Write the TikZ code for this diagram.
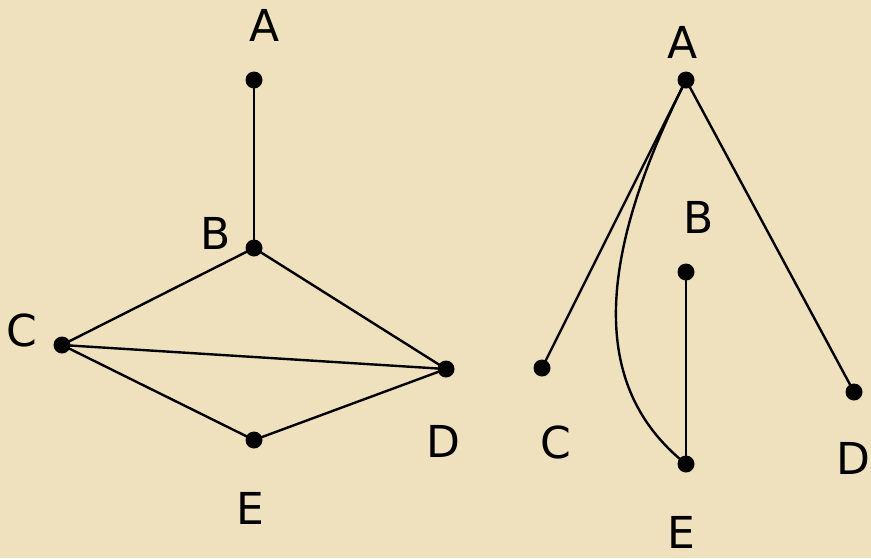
\documentclass[tikz,border=0pt]{standalone}
\usepackage{fontspec}
\setmainfont{DejaVu Sans}
\definecolor{parch}{RGB}{240,225,190}
\tikzset{
  vtx/.style={circle,fill=black,inner sep=0pt,minimum size=17pt},
  lbl/.style={inner sep=0pt,font=\fontsize{44}{48}\selectfont},
  edge/.style={line width=2.4pt,black}
}
\begin{document}
\begin{tikzpicture}[x=1pt,y=-1pt]
\fill[parch] (0,0) rectangle (871,558);
\useasboundingbox (0,0) rectangle (871,558);
% left graph
\node[vtx] (A1) at (254,80) {};
\node[vtx] (B1) at (254,248) {};
\node[vtx] (C1) at (62,345) {};
\node[vtx] (D1) at (446,369) {};
\node[vtx] (E1) at (254,440) {};
\node[lbl] (lA1) at (265,25) {A};
\node[lbl] (lB1) at (216,233) {B};
\node[lbl] (lC1) at (22,330) {C};
\node[lbl] (lD1) at (443,441) {D};
\node[lbl] (lE1) at (250,508) {E};
\draw[edge] (A1.center) -- (B1.center);
\draw[edge] (B1.center) -- (C1.center);
\draw[edge] (B1.center) -- (D1.center);
\draw[edge] (C1.center) -- (D1.center);
\draw[edge] (C1.center) -- (E1.center);
\draw[edge] (E1.center) -- (D1.center);
% right graph
\node[vtx] (A2) at (686,80) {};
\node[vtx] (B2) at (686,272) {};
\node[vtx] (C2) at (542,368) {};
\node[vtx] (D2) at (854,392) {};
\node[vtx] (E2) at (686,464) {};
\node[lbl] (lA2) at (683,42) {A};
\node[lbl] (lB2) at (699,217) {B};
\node[lbl] (lC2) at (556,442) {C};
\node[lbl] (lD2) at (853,458) {D};
\node[lbl] (lE2) at (681,532) {E};
\draw[edge] (A2.center) -- (C2.center);
\draw[edge] (A2.center) -- (D2.center);
\draw[edge] (B2.center) -- (E2.center);
\draw[edge] (A2.center) .. controls (606,240) and (580,380) .. (E2.center);
\end{tikzpicture}
\end{document}
